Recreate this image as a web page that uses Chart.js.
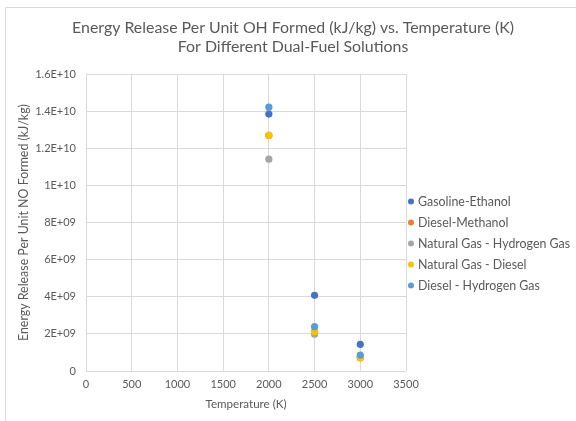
<!DOCTYPE html>
<html>
<head>
<meta charset="utf-8">
<script src="https://cdn.jsdelivr.net/npm/chart.js@4/dist/chart.umd.min.js"></script>
<style>
  html, body { margin: 0; padding: 0; background: #ffffff; }
  #wrap { width: 576px; height: 421px; position: relative; }
</style>
</head>
<body>
<div id="wrap"><canvas id="c" width="576" height="421"></canvas></div>
<script>
const temperatures = [2000, 2500, 3000];
const seriesNames = ["Gasoline-Ethanol", "Diesel-Methanol", "Natural Gas - Hydrogen Gas", "Natural Gas - Diesel", "Diesel - Hydrogen Gas"];
const gasolineEthanol = [1.385e10, 4.08e9, 1.44e9];
const dieselMethanol = [1.27e10, 2.12e9, 7.2e8];
const naturalGasHydrogen = [1.142e10, 1.98e9, 7.4e8];
const naturalGasDiesel = [1.27e10, 2.12e9, 7.2e8];
const dieselHydrogen = [1.422e10, 2.39e9, 8.6e8];
const seriesColors = ["#4472C4", "#ED7D31", "#A5A5A5", "#FFC000", "#5B9BD5"];
const yTickLabels = ["0", "2E+09", "4E+09", "6E+09", "8E+09", "1E+10", "1.2E+10", "1.4E+10", "1.6E+10"];
const xTickLabels = ["0", "500", "1000", "1500", "2000", "2500", "3000", "3500"];

const allSeries = [gasolineEthanol, dieselMethanol, naturalGasHydrogen, naturalGasDiesel, dieselHydrogen];
const FONT = "Lato, 'Open Sans', sans-serif";
const TXT = "#595959";

const datasets = allSeries.map((vals, i) => ({
  label: seriesNames[i],
  data: temperatures.map((t, j) => ({ x: t, y: vals[j] })),
  backgroundColor: seriesColors[i],
  borderColor: seriesColors[i],
  pointRadius: 3.6,
  pointHoverRadius: 3.6,
  borderWidth: 0,
  showLine: false,
  order: allSeries.length - i
}));

const frame = {
  id: 'frame',
  beforeDraw(chart) {
    const ctx = chart.ctx;
    ctx.save();
    ctx.strokeStyle = '#d9d9d9';
    ctx.lineWidth = 1;
    ctx.beginPath();
    ctx.moveTo(5.5, 421);
    ctx.lineTo(5.5, 7.5);
    ctx.lineTo(576, 7.5);
    ctx.stroke();
    ctx.restore();
  }
};

const sideLegend = {
  id: 'sideLegend',
  afterDraw(chart) {
    const ctx = chart.ctx;
    const a = chart.chartArea;
    const ds = chart.data.datasets;
    const step = 21;
    const startY = (a.top + a.bottom) / 2 + 21 - step * (ds.length - 1) / 2;
    ctx.save();
    ctx.font = "12.4px " + FONT;
    ctx.textBaseline = 'middle';
    ctx.textAlign = 'left';
    ds.forEach((d, i) => {
      const y = startY + i * step;
      const cx = a.right + 5;
      ctx.fillStyle = d.backgroundColor;
      ctx.beginPath();
      ctx.arc(cx, y, 3, 0, Math.PI * 2);
      ctx.fill();
      ctx.fillStyle = TXT;
      ctx.fillText(d.label, cx + 7, y);
    });
    ctx.restore();
  }
};

new Chart(document.getElementById('c'), {
  type: 'scatter',
  data: { datasets },
  plugins: [frame, sideLegend],
  options: {
    responsive: false,
    animation: false,
    devicePixelRatio: 1,
    layout: { padding: { left: 10, right: 0, top: 0, bottom: 0 } },
    plugins: {
      legend: { display: false },
      tooltip: { enabled: false },
      title: {
        display: true,
        text: ["Energy Release Per Unit OH Formed (kJ/kg) vs. Temperature (K)", "For Different Dual-Fuel Solutions"],
        color: TXT,
        font: { family: FONT, size: 15.9, weight: 'normal', lineHeight: 1.2 },
        padding: { top: 18, bottom: 18 }
      }
    },
    scales: {
      x: {
        type: 'linear',
        min: 0, max: 3500,
        afterFit(s) { s.height = 50; },
        afterBuildTicks(s) { s.ticks = xTickLabels.map(v => ({ value: Number(v) })); },
        ticks: {
          color: TXT, font: { family: FONT, size: 11 }, padding: 7,
          callback: (v, i) => xTickLabels[i]
        },
        grid: { color: '#d9d9d9', drawTicks: false },
        border: { display: false },
        title: {
          display: true, text: 'Temperature (K)', color: TXT,
          font: { family: FONT, size: 11.6 }, padding: { top: 0, bottom: 10 }
        }
      },
      y: {
        type: 'linear',
        min: 0, max: 1.6e10,
        afterFit(s) { s.width = 76; },
        afterBuildTicks(s) { s.ticks = yTickLabels.map(v => ({ value: Number(v) })); },
        ticks: {
          color: TXT, font: { family: FONT, size: 11 }, padding: 10,
          callback: (v, i) => yTickLabels[i]
        },
        grid: { color: '#d9d9d9', drawTicks: false },
        border: { display: false },
        title: {
          display: true, text: 'Energy Release Per Unit NO Formed (kJ/kg)', color: TXT,
          font: { family: FONT, size: 12.4 }, padding: { top: 6.5, bottom: 0 }
        }
      },
      legendSpace: {
        type: 'linear',
        position: 'right',
        display: true,
        afterFit(s) { s.width = 170; },
        ticks: { display: false },
        grid: { display: false, drawTicks: false },
        border: { display: false },
        title: { display: false }
      }
    }
  }
});
</script>
</body>
</html>
